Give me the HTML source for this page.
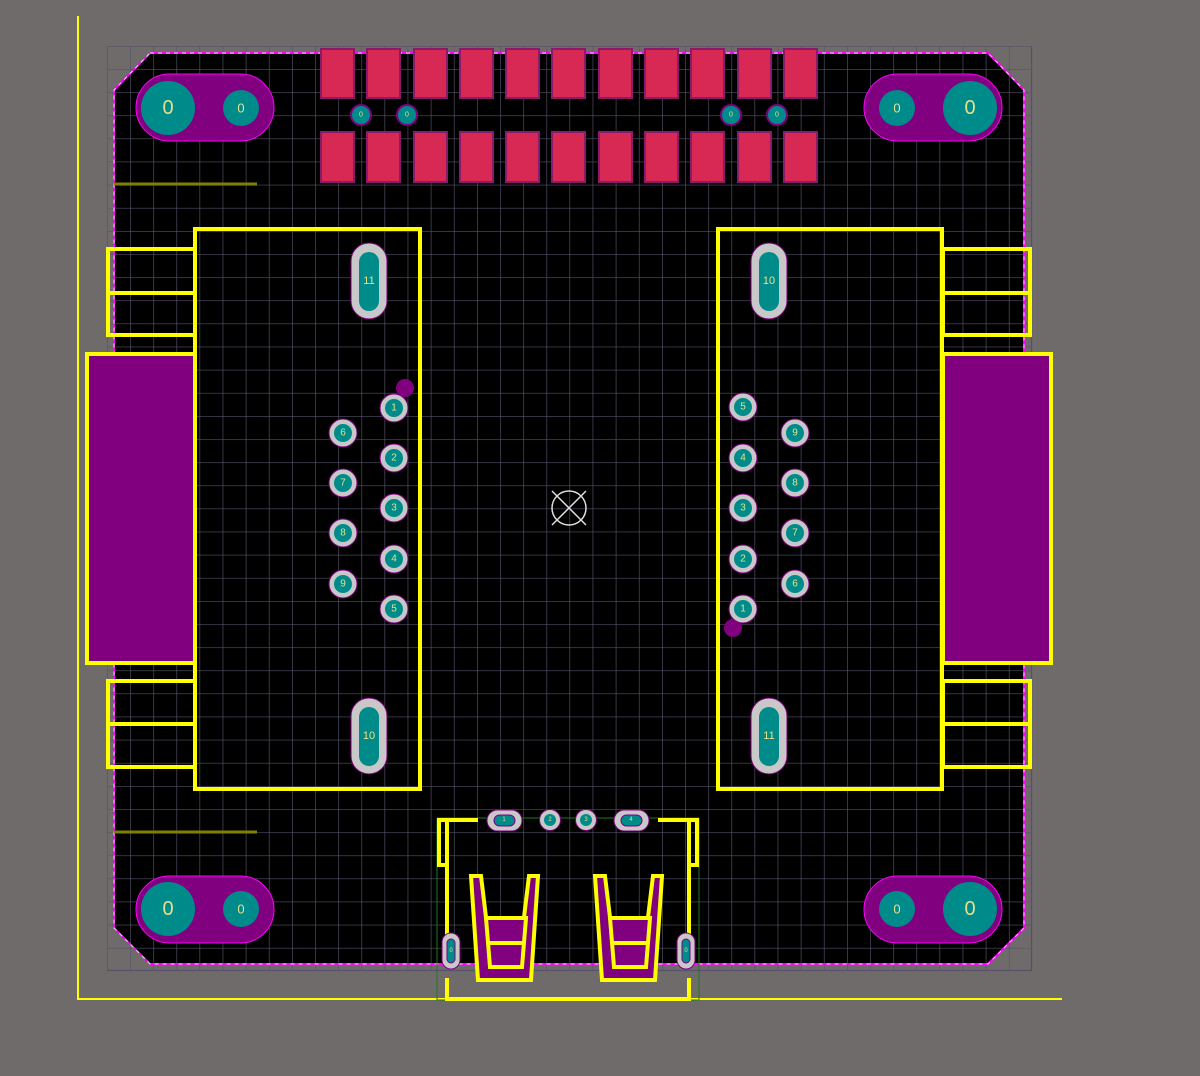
<!DOCTYPE html>
<html><head><meta charset="utf-8"><style>
html,body{margin:0;padding:0;background:#6f6b6b;}
svg{display:block}
text{font-family:"Liberation Sans",sans-serif;fill:#e6e08a;text-anchor:middle;dominant-baseline:central}
</style></head><body>
<svg width="1200" height="1076" viewBox="0 0 1200 1076" xmlns="http://www.w3.org/2000/svg">
<defs>
<pattern id="g" x="107" y="46" width="23.125" height="23.125" patternUnits="userSpaceOnUse">
<path d="M0 0V23.125M0 0H23.125" stroke="#55526a" stroke-width="1.3" fill="none"/>
</pattern>
<clipPath id="cl"><rect x="107" y="46" width="925" height="925"/></clipPath>
</defs>
<rect width="1200" height="1076" fill="#6f6b6b"/>
<!-- board -->
<polygon points="150,53 988,53 1024,90 1024,928 988,964 150,964 114,928 114,90" fill="#000"/>
<rect x="107" y="46" width="925" height="925" fill="url(#g)"/>
<line x1="1031.5" y1="46" x2="1031.5" y2="971" stroke="#55526a" stroke-width="1.3"/>
<line x1="107" y1="970.5" x2="1032" y2="970.5" stroke="#55526a" stroke-width="1.3"/>
<polygon points="150,53 988,53 1024,90 1024,928 988,964 150,964 114,928 114,90" fill="none" stroke="#ff00ff" stroke-width="2"/>
<polygon points="150,53 988,53 1024,90 1024,928 988,964 150,964 114,928 114,90" fill="none" stroke="#ddd" stroke-width="1" stroke-dasharray="4 4"/>
<!-- yellow axes -->
<line x1="78" y1="16" x2="78" y2="1000" stroke="#ffff00" stroke-width="2"/>
<line x1="78" y1="999" x2="1062" y2="999" stroke="#ffff00" stroke-width="2"/>
<!-- olive lines -->
<line x1="114" y1="184" x2="257" y2="184" stroke="#808000" stroke-width="3"/>
<line x1="114" y1="832" x2="257" y2="832" stroke="#808000" stroke-width="3"/>

<!-- mounting holes -->
<g>
<rect x="136" y="74" width="138" height="67" rx="33.5" fill="#800080" stroke="#ff00ff" stroke-width="1"/>
<circle cx="168" cy="108" r="27" fill="#008b8b"/><text x="168" y="108" font-size="20">0</text>
<circle cx="241" cy="108" r="18" fill="#008b8b"/><text x="241" y="108" font-size="13">0</text>
<rect x="864" y="74" width="138" height="67" rx="33.5" fill="#800080" stroke="#ff00ff" stroke-width="1"/>
<circle cx="970" cy="108" r="27" fill="#008b8b"/><text x="970" y="108" font-size="20">0</text>
<circle cx="897" cy="108" r="18" fill="#008b8b"/><text x="897" y="108" font-size="13">0</text>
<rect x="136" y="876" width="138" height="67" rx="33.5" fill="#800080" stroke="#ff00ff" stroke-width="1"/>
<circle cx="168" cy="909" r="27" fill="#008b8b"/><text x="168" y="909" font-size="20">0</text>
<circle cx="241" cy="909" r="18" fill="#008b8b"/><text x="241" y="909" font-size="13">0</text>
<rect x="864" y="876" width="138" height="67" rx="33.5" fill="#800080" stroke="#ff00ff" stroke-width="1"/>
<circle cx="970" cy="909" r="27" fill="#008b8b"/><text x="970" y="909" font-size="20">0</text>
<circle cx="897" cy="909" r="18" fill="#008b8b"/><text x="897" y="909" font-size="13">0</text>
</g>

<!-- top SMD pads -->
<g fill="#d72953" stroke="#8b1a6b" stroke-width="2">
<rect x="321" y="49" width="33" height="49"/><rect x="367" y="49" width="33" height="49"/><rect x="414" y="49" width="33" height="49"/><rect x="460" y="49" width="33" height="49"/><rect x="506" y="49" width="33" height="49"/><rect x="552" y="49" width="33" height="49"/><rect x="599" y="49" width="33" height="49"/><rect x="645" y="49" width="33" height="49"/><rect x="691" y="49" width="33" height="49"/><rect x="738" y="49" width="33" height="49"/><rect x="784" y="49" width="33" height="49"/>
<rect x="321" y="132" width="33" height="50"/><rect x="367" y="132" width="33" height="50"/><rect x="414" y="132" width="33" height="50"/><rect x="460" y="132" width="33" height="50"/><rect x="506" y="132" width="33" height="50"/><rect x="552" y="132" width="33" height="50"/><rect x="599" y="132" width="33" height="50"/><rect x="645" y="132" width="33" height="50"/><rect x="691" y="132" width="33" height="50"/><rect x="738" y="132" width="33" height="50"/><rect x="784" y="132" width="33" height="50"/>
</g>
<g fill="#008b8b" stroke="#800080" stroke-width="2">
<circle cx="361" cy="115" r="10"/><circle cx="407" cy="115" r="10"/><circle cx="731" cy="115" r="10"/><circle cx="777" cy="115" r="10"/>
</g>
<g font-size="7"><text x="361" y="115">0</text><text x="407" y="115">0</text><text x="731" y="115">0</text><text x="777" y="115">0</text></g>

<!-- left connector -->
<g fill="none" stroke="#ffff00" stroke-width="4">
<rect x="108" y="249" width="87" height="86"/><line x1="108" y1="293" x2="195" y2="293"/>
<rect x="108" y="681" width="87" height="86"/><line x1="108" y1="724" x2="195" y2="724"/>
<rect x="87" y="354" width="108" height="309" fill="#800080"/>
<rect x="195" y="229" width="225" height="560"/>
<rect x="108" y="249" width="87" height="86" transform="translate(835,0)"/><line x1="943" y1="293" x2="1030" y2="293"/>
<rect x="943" y="681" width="87" height="86"/><line x1="943" y1="724" x2="1030" y2="724"/>
<rect x="943" y="354" width="108" height="309" fill="#800080"/>
<rect x="718" y="229" width="224" height="560"/>
</g>

<!-- oblong pads -->
<g>
<rect x="351" y="243" width="36" height="76" rx="18" fill="#c8c8c8" stroke="#800080"/><rect x="359" y="252" width="20" height="59" rx="10" fill="#008b8b"/><text x="369" y="281" font-size="11">11</text>
<rect x="351" y="698" width="36" height="76" rx="18" fill="#c8c8c8" stroke="#800080"/><rect x="359" y="707" width="20" height="59" rx="10" fill="#008b8b"/><text x="369" y="736" font-size="11">10</text>
<rect x="751" y="243" width="36" height="76" rx="18" fill="#c8c8c8" stroke="#800080"/><rect x="759" y="252" width="20" height="59" rx="10" fill="#008b8b"/><text x="769" y="281" font-size="11">10</text>
<rect x="751" y="698" width="36" height="76" rx="18" fill="#c8c8c8" stroke="#800080"/><rect x="759" y="707" width="20" height="59" rx="10" fill="#008b8b"/><text x="769" y="736" font-size="11">11</text>
</g>
<circle cx="405" cy="388" r="9" fill="#800080"/>
<circle cx="733" cy="628" r="9" fill="#800080"/>
<!-- pins -->
<g stroke="#800080" stroke-width="1" fill="#c8c8c8">
<circle cx="394" cy="408" r="14"/><circle cx="394" cy="458" r="14"/><circle cx="394" cy="508" r="14"/><circle cx="394" cy="559" r="14"/><circle cx="394" cy="609" r="14"/>
<circle cx="343" cy="433" r="14"/><circle cx="343" cy="483" r="14"/><circle cx="343" cy="533" r="14"/><circle cx="343" cy="584" r="14"/>
<circle cx="743" cy="407" r="14"/><circle cx="743" cy="458" r="14"/><circle cx="743" cy="508" r="14"/><circle cx="743" cy="559" r="14"/><circle cx="743" cy="609" r="14"/>
<circle cx="795" cy="433" r="14"/><circle cx="795" cy="483" r="14"/><circle cx="795" cy="533" r="14"/><circle cx="795" cy="584" r="14"/>
</g>
<g fill="#008b8b">
<circle cx="394" cy="408" r="9"/><circle cx="394" cy="458" r="9"/><circle cx="394" cy="508" r="9"/><circle cx="394" cy="559" r="9"/><circle cx="394" cy="609" r="9"/>
<circle cx="343" cy="433" r="9"/><circle cx="343" cy="483" r="9"/><circle cx="343" cy="533" r="9"/><circle cx="343" cy="584" r="9"/>
<circle cx="743" cy="407" r="9"/><circle cx="743" cy="458" r="9"/><circle cx="743" cy="508" r="9"/><circle cx="743" cy="559" r="9"/><circle cx="743" cy="609" r="9"/>
<circle cx="795" cy="433" r="9"/><circle cx="795" cy="483" r="9"/><circle cx="795" cy="533" r="9"/><circle cx="795" cy="584" r="9"/>
</g>
<g font-size="10">
<text x="394" y="408">1</text><text x="394" y="458">2</text><text x="394" y="508">3</text><text x="394" y="559">4</text><text x="394" y="609">5</text>
<text x="343" y="433">6</text><text x="343" y="483">7</text><text x="343" y="533">8</text><text x="343" y="584">9</text>
<text x="743" y="407">5</text><text x="743" y="458">4</text><text x="743" y="508">3</text><text x="743" y="559">2</text><text x="743" y="609">1</text>
<text x="795" y="433">9</text><text x="795" y="483">8</text><text x="795" y="533">7</text><text x="795" y="584">6</text>
</g>

<!-- center origin -->
<g stroke="#ddd" stroke-width="1.5" fill="none">
<circle cx="569" cy="508" r="17"/>
<line x1="552" y1="491" x2="586" y2="525"/><line x1="586" y1="491" x2="552" y2="525"/>
</g>

<!-- USB -->
<g fill="none" stroke="#1f7a1f" stroke-width="1">
<rect x="437" y="818" width="262" height="182"/>
</g>
<g fill="none" stroke="#ffff00" stroke-width="4">
<polyline points="478,820 439,820 439,865 447,865"/>
<line x1="447" y1="820" x2="447" y2="935"/>
<polyline points="658,820 697,820 697,865 689,865"/>
<line x1="689" y1="820" x2="689" y2="935"/>
<polyline points="447,978 447,999 689,999 689,978"/>
</g>
<g stroke="#ffff00" stroke-width="4" fill="#800080">
<polygon points="471,876 481,876 492,967 518,967 529,876 538,876 531,980 478,980"/>
<polygon points="595,876 605,876 616,967 642,967 653,876 662,876 655,980 602,980"/>
</g>
<g stroke="#ffff00" stroke-width="4" fill="#800080">
<polygon points="486,918 526,918 522,967 490,967"/>
<line x1="488" y1="943" x2="524" y2="943"/>
<polygon points="610,918 650,918 646,967 614,967"/>
<line x1="612" y1="943" x2="648" y2="943"/>
</g>
<g stroke="#800080" stroke-width="1">
<rect x="487" y="810" width="35" height="21" rx="10.5" fill="#c8c8c8"/><rect x="494" y="815" width="21" height="11" rx="5.5" fill="#008b8b"/>
<rect x="614" y="810" width="35" height="21" rx="10.5" fill="#c8c8c8"/><rect x="621" y="815" width="21" height="11" rx="5.5" fill="#008b8b"/>
<circle cx="550" cy="820" r="10.5" fill="#c8c8c8"/><circle cx="550" cy="820" r="6" fill="#008b8b" stroke="none"/>
<circle cx="586" cy="820" r="10.5" fill="#c8c8c8"/><circle cx="586" cy="820" r="6" fill="#008b8b" stroke="none"/>
<rect x="442" y="933" width="18" height="36" rx="9" fill="#c8c8c8"/><rect x="447" y="939" width="8" height="24" rx="4" fill="#008b8b"/>
<rect x="677" y="933" width="18" height="36" rx="9" fill="#c8c8c8"/><rect x="682" y="939" width="8" height="24" rx="4" fill="#008b8b"/>
</g>
<g font-size="6"><text x="504" y="820">1</text><text x="550" y="820">2</text><text x="586" y="820">3</text><text x="631" y="820">4</text><text x="451" y="951">0</text><text x="686" y="951">0</text></g>
</svg>
</body></html>
